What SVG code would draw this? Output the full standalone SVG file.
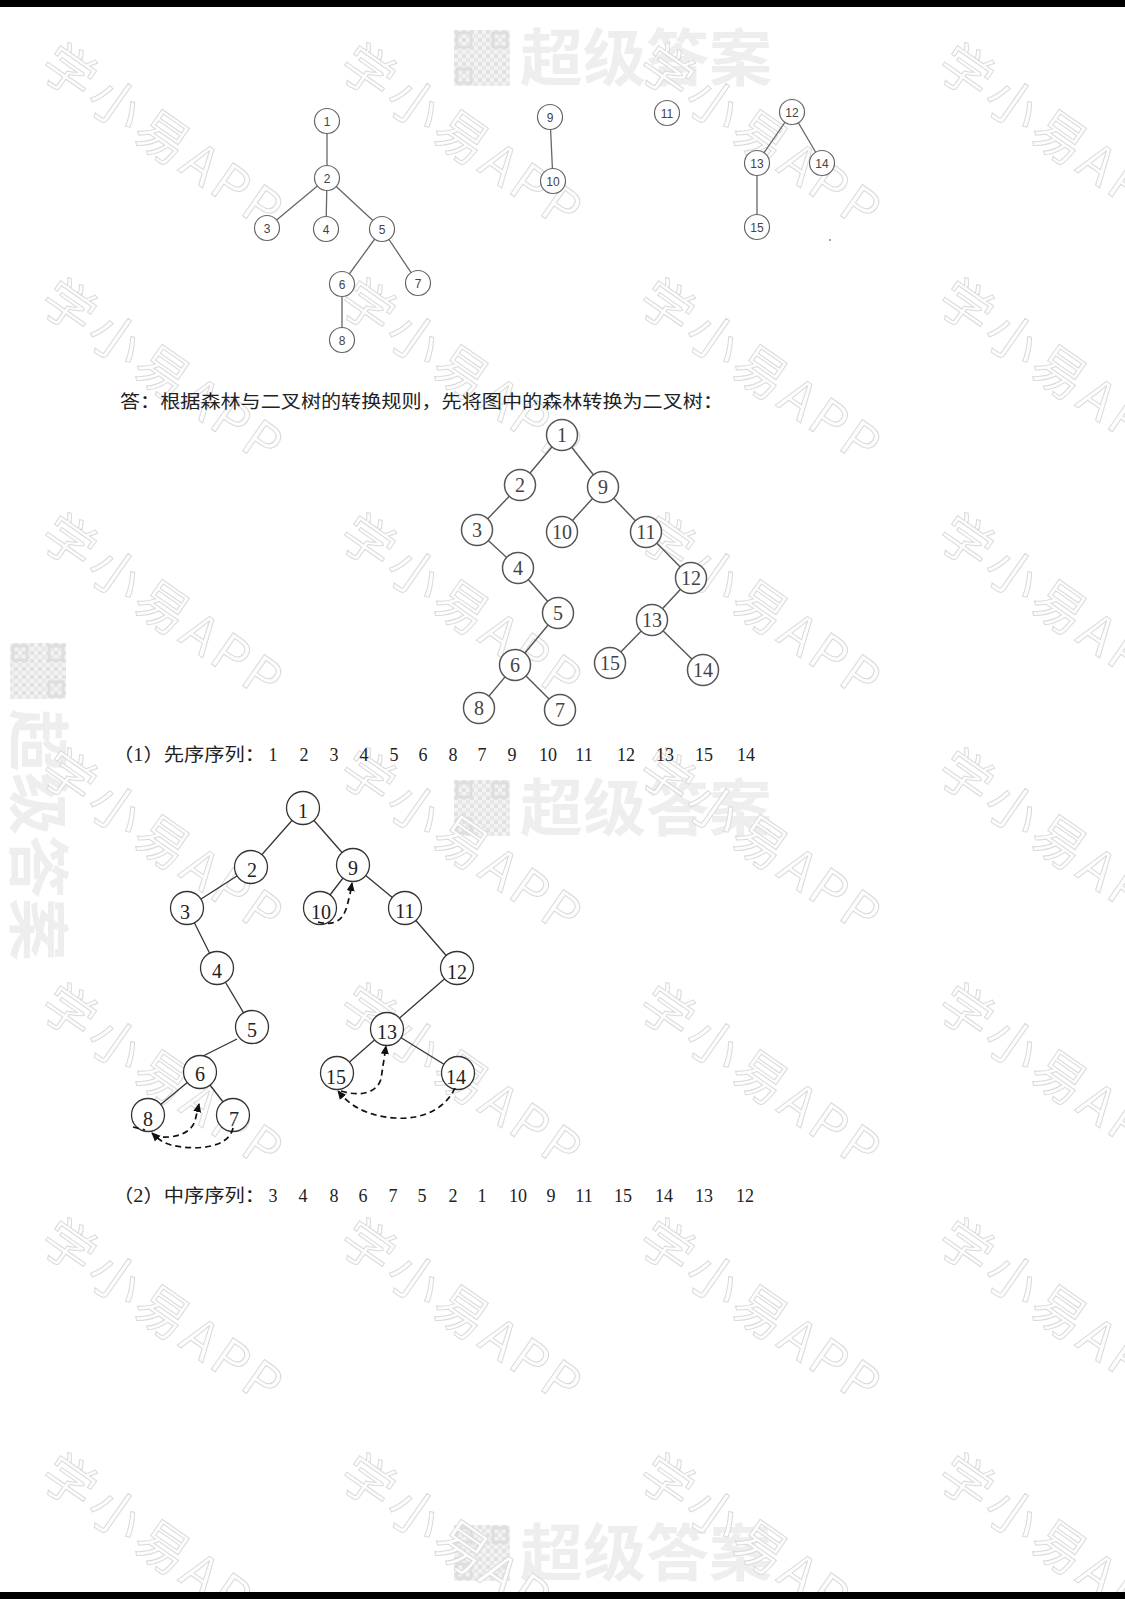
<svg xmlns="http://www.w3.org/2000/svg" xmlns:xlink="http://www.w3.org/1999/xlink" width="1125" height="1599" viewBox="0 0 1125 1599">
<style>
.wm{font-family:"Noto Sans CJK SC","Noto Sans",sans-serif;font-size:52px;letter-spacing:5px;fill:#fdfdfd;stroke:#dadada;stroke-width:1}
.cjt{font-family:"Noto Sans CJK SC",sans-serif;font-size:62px;font-weight:700;fill:#eeeeee}
.fc circle{fill:#fff;stroke:#666;stroke-width:1.2}
.fc text{font-family:"Liberation Sans","DejaVu Sans",sans-serif;font-size:12px;fill:#444;text-anchor:middle}
.fe line{stroke:#666;stroke-width:1.3}
.b1 circle{fill:#fff;stroke:#555;stroke-width:1.5}
.b1 text{font-family:"Liberation Serif",serif;font-size:20px;fill:#444;text-anchor:middle}
.e1 line{stroke:#555;stroke-width:1.4}
.b2 circle{fill:#fff;stroke:#333;stroke-width:1.3}
.b2 text{font-family:"Liberation Serif",serif;font-size:20px;fill:#222;text-anchor:middle}
.e2 line{stroke:#333;stroke-width:1.3}
.th path,.th line{fill:none;stroke:#111;stroke-width:1.7;stroke-dasharray:6 4}
.tx{font-family:"Liberation Serif","Noto Sans CJK SC",serif;font-size:18px;fill:#222}
.num{font-family:"Liberation Serif",serif;font-size:18px;fill:#222;text-anchor:middle}
</style>
<defs>
<marker id="ah" viewBox="0 0 10 10" refX="9" refY="5" markerWidth="9" markerHeight="9" markerUnits="userSpaceOnUse" orient="auto">
<path d="M0,0.5 L10,5 L0,9.5 z" fill="#111"/>
</marker>
<pattern id="qrp" width="8" height="8" patternUnits="userSpaceOnUse">
<rect width="8" height="8" fill="#f3f3f3"/><rect width="4" height="4" fill="#e2e2e2"/><rect x="4" y="4" width="4" height="4" fill="#e7e7e7"/>
</pattern>
<g id="wmx"><text class="wm" transform="rotate(35)">学小易APP</text></g>
<g id="cj">
<rect x="0" y="0" width="56" height="56" fill="url(#qrp)"/>
<rect x="3" y="3" width="14" height="14" fill="none" stroke="#dedede" stroke-width="3"/>
<rect x="39" y="3" width="14" height="14" fill="none" stroke="#dedede" stroke-width="3"/>
<rect x="3" y="39" width="14" height="14" fill="none" stroke="#dedede" stroke-width="3"/>
<text class="cjt" x="66" y="51" textLength="252" lengthAdjust="spacingAndGlyphs">超级答案</text>
</g>
</defs>
<rect width="1125" height="1599" fill="#fff"/>

<g id="watermarks">
<use xlink:href="#cj" transform="translate(454,30)"/>
<use xlink:href="#cj" transform="translate(454,780)"/>
<use xlink:href="#cj" transform="translate(454,1525)"/>
<use xlink:href="#cj" transform="translate(66,643) rotate(90)"/>
<use xlink:href="#wmx" transform="translate(37,72)"/>
<use xlink:href="#wmx" transform="translate(336,72)"/>
<use xlink:href="#wmx" transform="translate(635,72)"/>
<use xlink:href="#wmx" transform="translate(934,72)"/>
<use xlink:href="#wmx" transform="translate(37,307)"/>
<use xlink:href="#wmx" transform="translate(336,307)"/>
<use xlink:href="#wmx" transform="translate(635,307)"/>
<use xlink:href="#wmx" transform="translate(934,307)"/>
<use xlink:href="#wmx" transform="translate(37,542)"/>
<use xlink:href="#wmx" transform="translate(336,542)"/>
<use xlink:href="#wmx" transform="translate(635,542)"/>
<use xlink:href="#wmx" transform="translate(934,542)"/>
<use xlink:href="#wmx" transform="translate(37,777)"/>
<use xlink:href="#wmx" transform="translate(336,777)"/>
<use xlink:href="#wmx" transform="translate(635,777)"/>
<use xlink:href="#wmx" transform="translate(934,777)"/>
<use xlink:href="#wmx" transform="translate(37,1012)"/>
<use xlink:href="#wmx" transform="translate(336,1012)"/>
<use xlink:href="#wmx" transform="translate(635,1012)"/>
<use xlink:href="#wmx" transform="translate(934,1012)"/>
<use xlink:href="#wmx" transform="translate(37,1247)"/>
<use xlink:href="#wmx" transform="translate(336,1247)"/>
<use xlink:href="#wmx" transform="translate(635,1247)"/>
<use xlink:href="#wmx" transform="translate(934,1247)"/>
<use xlink:href="#wmx" transform="translate(37,1482)"/>
<use xlink:href="#wmx" transform="translate(336,1482)"/>
<use xlink:href="#wmx" transform="translate(635,1482)"/>
<use xlink:href="#wmx" transform="translate(934,1482)"/>
</g>

<!-- Forest -->
<g id="forest-edges" class="fe">
<line x1="327" y1="121" x2="327" y2="178"/>
<line x1="327" y1="178" x2="267" y2="228"/>
<line x1="327" y1="178" x2="326" y2="229"/>
<line x1="327" y1="178" x2="382" y2="229"/>
<line x1="382" y1="229" x2="342" y2="284"/>
<line x1="382" y1="229" x2="418" y2="283"/>
<line x1="342" y1="284" x2="342" y2="340"/>
<line x1="550" y1="117" x2="553" y2="181"/>
<line x1="792" y1="112" x2="757" y2="163"/>
<line x1="792" y1="112" x2="822" y2="163"/>
<line x1="757" y1="163" x2="757" y2="227"/>
</g>
<g class="fc">
<g id="f1"><circle cx="327" cy="121" r="12.5"/><text x="327" y="125.5">1</text></g>
<g id="f2"><circle cx="327" cy="178" r="12.5"/><text x="327" y="182.5">2</text></g>
<g id="f3"><circle cx="267" cy="228" r="12.5"/><text x="267" y="232.5">3</text></g>
<g id="f4"><circle cx="326" cy="229" r="12.5"/><text x="326" y="233.5">4</text></g>
<g id="f5"><circle cx="382" cy="229" r="12.5"/><text x="382" y="233.5">5</text></g>
<g id="f6"><circle cx="342" cy="284" r="12.5"/><text x="342" y="288.5">6</text></g>
<g id="f7"><circle cx="418" cy="283" r="12.5"/><text x="418" y="287.5">7</text></g>
<g id="f8"><circle cx="342" cy="340" r="12.5"/><text x="342" y="344.5">8</text></g>
<g id="f9"><circle cx="550" cy="117" r="12.5"/><text x="550" y="121.5">9</text></g>
<g id="f10"><circle cx="553" cy="181" r="12.5"/><text x="553" y="185.5">10</text></g>
<g id="f11"><circle cx="667" cy="113" r="12.5"/><text x="667" y="117.5">11</text></g>
<g id="f12"><circle cx="792" cy="112" r="12.5"/><text x="792" y="116.5">12</text></g>
<g id="f13"><circle cx="757" cy="163" r="12.5"/><text x="757" y="167.5">13</text></g>
<g id="f14"><circle cx="822" cy="163" r="12.5"/><text x="822" y="167.5">14</text></g>
<g id="f15"><circle cx="757" cy="227" r="12.5"/><text x="757" y="231.5">15</text></g>
</g>
<circle cx="830" cy="240" r="1" fill="#888"/>

<text class="tx" x="120" y="408" textLength="603" lengthAdjust="spacingAndGlyphs">答：根据森林与二叉树的转换规则，先将图中的森林转换为二叉树：</text>

<!-- Binary tree 1 -->
<g id="bt1-edges" class="e1">
<line x1="562" y1="435" x2="520" y2="485"/>
<line x1="562" y1="435" x2="603" y2="487"/>
<line x1="520" y1="485" x2="477" y2="530"/>
<line x1="477" y1="530" x2="518" y2="568"/>
<line x1="518" y1="568" x2="558" y2="613"/>
<line x1="558" y1="613" x2="515" y2="665"/>
<line x1="515" y1="665" x2="479" y2="708"/>
<line x1="515" y1="665" x2="560" y2="710"/>
<line x1="603" y1="487" x2="562" y2="532"/>
<line x1="603" y1="487" x2="646" y2="532"/>
<line x1="646" y1="532" x2="691" y2="578"/>
<line x1="691" y1="578" x2="652" y2="620"/>
<line x1="652" y1="620" x2="610" y2="663"/>
<line x1="652" y1="620" x2="703" y2="670"/>
</g>
<g class="b1">
<g id="b1n1"><circle cx="562" cy="435" r="15.5"/><text x="562" y="442">1</text></g>
<g id="b1n2"><circle cx="520" cy="485" r="15.5"/><text x="520" y="492">2</text></g>
<g id="b1n9"><circle cx="603" cy="487" r="15.5"/><text x="603" y="494">9</text></g>
<g id="b1n3"><circle cx="477" cy="530" r="15.5"/><text x="477" y="537">3</text></g>
<g id="b1n10"><circle cx="562" cy="532" r="15.5"/><text x="562" y="539">10</text></g>
<g id="b1n11"><circle cx="646" cy="532" r="15.5"/><text x="646" y="539">11</text></g>
<g id="b1n4"><circle cx="518" cy="568" r="15.5"/><text x="518" y="575">4</text></g>
<g id="b1n12"><circle cx="691" cy="578" r="15.5"/><text x="691" y="585">12</text></g>
<g id="b1n5"><circle cx="558" cy="613" r="15.5"/><text x="558" y="620">5</text></g>
<g id="b1n13"><circle cx="652" cy="620" r="15.5"/><text x="652" y="627">13</text></g>
<g id="b1n6"><circle cx="515" cy="665" r="15.5"/><text x="515" y="672">6</text></g>
<g id="b1n15"><circle cx="610" cy="663" r="15.5"/><text x="610" y="670">15</text></g>
<g id="b1n14"><circle cx="703" cy="670" r="15.5"/><text x="703" y="677">14</text></g>
<g id="b1n8"><circle cx="479" cy="708" r="15.5"/><text x="479" y="715">8</text></g>
<g id="b1n7"><circle cx="560" cy="710" r="15.5"/><text x="560" y="717">7</text></g>
</g>

<text class="tx" x="113" y="761" textLength="152" lengthAdjust="spacingAndGlyphs">（1）先序序列：</text>
<g id="seq1">
<text class="num" x="273" y="761">1</text><text class="num" x="304" y="761">2</text><text class="num" x="334" y="761">3</text><text class="num" x="364" y="761">4</text><text class="num" x="394" y="761">5</text><text class="num" x="423" y="761">6</text><text class="num" x="453" y="761">8</text><text class="num" x="482" y="761">7</text><text class="num" x="512" y="761">9</text><text class="num" x="548" y="761">10</text><text class="num" x="584" y="761">11</text><text class="num" x="626" y="761">12</text><text class="num" x="665" y="761">13</text><text class="num" x="704" y="761">15</text><text class="num" x="746" y="761">14</text>
</g>

<!-- Binary tree 2 (threaded) -->
<g id="bt2-edges" class="e2">
<line x1="303" y1="808" x2="251" y2="867"/>
<line x1="303" y1="808" x2="353" y2="865"/>
<line x1="251" y1="867" x2="187" y2="908"/>
<line x1="187" y1="908" x2="217" y2="968"/>
<line x1="217" y1="968" x2="252" y2="1027"/>
<line x1="237" y1="1039" x2="203" y2="1056"/>
<line x1="200" y1="1072" x2="148" y2="1115"/>
<line x1="200" y1="1072" x2="233" y2="1115"/>
<line x1="353" y1="865" x2="320" y2="908"/>
<line x1="353" y1="865" x2="405" y2="908"/>
<line x1="405" y1="908" x2="457" y2="968"/>
<line x1="457" y1="968" x2="387" y2="1029"/>
<line x1="387" y1="1029" x2="337" y2="1073"/>
<line x1="387" y1="1029" x2="458" y2="1073"/>
</g>
<g class="b2">
<g id="b2n1"><circle cx="303" cy="808" r="16.5"/><text x="303" y="818">1</text></g>
<g id="b2n2"><circle cx="251" cy="867" r="16.5"/><text x="252" y="877">2</text></g>
<g id="b2n9"><circle cx="353" cy="865" r="16.5"/><text x="353" y="875">9</text></g>
<g id="b2n3"><circle cx="187" cy="908" r="16.5"/><text x="185" y="919">3</text></g>
<g id="b2n10"><circle cx="320" cy="908" r="16.5"/><text x="321" y="919">10</text></g>
<g id="b2n11"><circle cx="405" cy="908" r="16.5"/><text x="405" y="918">11</text></g>
<g id="b2n4"><circle cx="217" cy="968" r="16.5"/><text x="217" y="978">4</text></g>
<g id="b2n12"><circle cx="457" cy="968" r="16.5"/><text x="457" y="979">12</text></g>
<g id="b2n5"><circle cx="252" cy="1027" r="16.5"/><text x="252" y="1037">5</text></g>
<g id="b2n13"><circle cx="387" cy="1029" r="16.5"/><text x="387" y="1039">13</text></g>
<g id="b2n6"><circle cx="200" cy="1072" r="16.5"/><text x="200" y="1081">6</text></g>
<g id="b2n15"><circle cx="337" cy="1073" r="16.5"/><text x="336" y="1084">15</text></g>
<g id="b2n14"><circle cx="458" cy="1073" r="16.5"/><text x="456" y="1084">14</text></g>
<g id="b2n8"><circle cx="148" cy="1115" r="16.5"/><text x="148" y="1126">8</text></g>
<g id="b2n7"><circle cx="233" cy="1115" r="16.5"/><text x="234" y="1126">7</text></g>
</g>
<g id="threads" class="th">
<path d="M318,922 C334,926 343,921 347,906 S351,889 352,883" marker-end="url(#ah)"/>
<line x1="133" y1="1127" x2="145" y2="1130"/>
<path d="M153,1136 C175,1140 191,1133 195,1121 L199,1104" marker-end="url(#ah)"/>
<path d="M233,1128 C229,1148 196,1151 171,1145 C161,1142 156,1137 152,1133" marker-end="url(#ah)"/>
<path d="M341,1091 C360,1097 377,1093 381,1079 L386,1046" marker-end="url(#ah)"/>
<path d="M455,1088 C445,1110 420,1120 395,1118 C366,1116 349,1105 338,1091" marker-end="url(#ah)"/>
</g>

<text class="tx" x="113" y="1202" textLength="152" lengthAdjust="spacingAndGlyphs">（2）中序序列：</text>
<g id="seq2">
<text class="num" x="273" y="1202">3</text><text class="num" x="303" y="1202">4</text><text class="num" x="334" y="1202">8</text><text class="num" x="363" y="1202">6</text><text class="num" x="393" y="1202">7</text><text class="num" x="422" y="1202">5</text><text class="num" x="453" y="1202">2</text><text class="num" x="482" y="1202">1</text><text class="num" x="518" y="1202">10</text><text class="num" x="551" y="1202">9</text><text class="num" x="584" y="1202">11</text><text class="num" x="623" y="1202">15</text><text class="num" x="664" y="1202">14</text><text class="num" x="704" y="1202">13</text><text class="num" x="745" y="1202">12</text>
</g>

<rect x="0" y="0" width="1125" height="7" fill="#000"/>
<rect x="0" y="1592" width="1125" height="7" fill="#000"/>
</svg>
